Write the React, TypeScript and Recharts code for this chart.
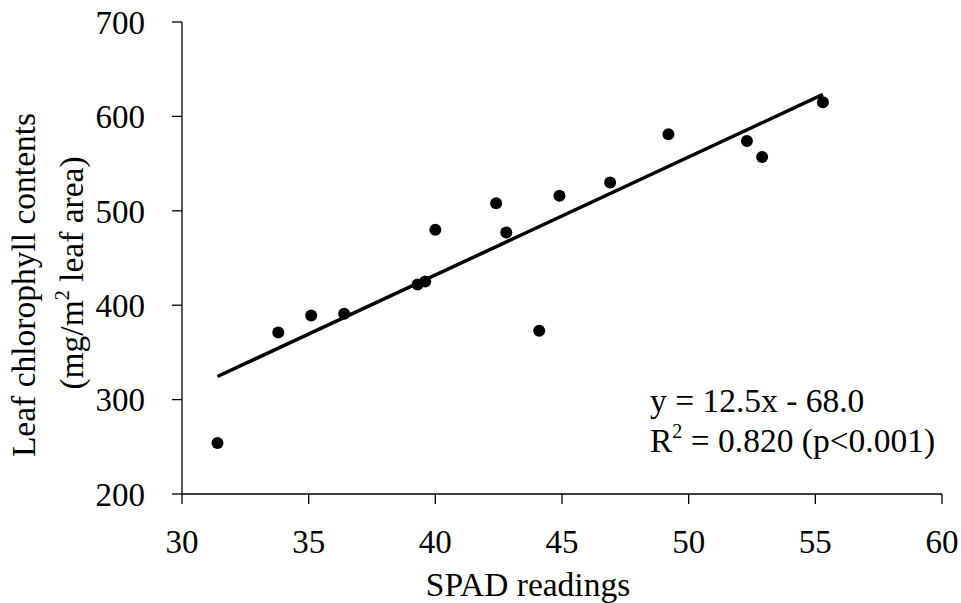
import { ScatterChart, Scatter, XAxis, YAxis, ReferenceLine, Customized } from 'recharts';

// SPAD reading vs leaf chlorophyll content (mg/m2 leaf area)
const spad = [31.4, 33.8, 35.1, 36.4, 39.3, 39.6, 40.0, 42.4, 42.8, 44.1, 44.9, 46.9, 49.2, 52.3, 52.9, 55.3];
const chlorophyll = [254, 371, 389, 391, 422, 425, 480, 508, 477, 373, 516, 530, 581, 574, 557, 615];

const xTicks = [30, 35, 40, 45, 50, 55, 60];
const yTicks = [200, 300, 400, 500, 600, 700];

// fitted line y = 12.5x - 68.0 over the observed SPAD range
const slope = 12.5;
const intercept = -68.0;
const fitRange = [31.4, 55.3];

const points = spad.map((x, i) => ({ x, y: chlorophyll[i] }));
const fitLine = fitRange.map((x) => ({ x, y: slope * x + intercept }));

const font = '"Liberation Serif", "Times New Roman", serif';

const Dot = (props: any) => <circle cx={props.cx} cy={props.cy} r={6} fill="#000" />;

const Texts = () => (
  <g fontFamily={font} fontSize={33.5} fill="#000">
    <text x={35} y={285} textAnchor="middle" transform="rotate(-90, 35, 285)">
      Leaf chlorophyll contents
    </text>
    <text x={83} y={273} textAnchor="middle" transform="rotate(-90, 83, 273)">
      (mg/m<tspan fontSize={20} dy={-14}>2</tspan><tspan dy={14}> leaf area)</tspan>
    </text>
    <text x={528} y={596} textAnchor="middle">SPAD readings</text>
    <text x={650} y={412}>y = 12.5x - 68.0</text>
    <text x={650} y={452}>
      R<tspan fontSize={20} dy={-14}>2</tspan><tspan dy={14}> = 0.820 (p&lt;0.001)</tspan>
    </text>
  </g>
);

export default function App() {
  return (
    <div style={{ position: 'fixed', top: 0, left: 0, width: 961, height: 603, background: '#fff' }}>
      <ScatterChart width={961} height={603} margin={{ top: 22, right: 19, bottom: 0, left: 0 }}>
        <XAxis
          type="number"
          dataKey="x"
          domain={[30, 60]}
          ticks={xTicks}
          tickSize={10}
          tickMargin={26}
          height={109}
          stroke="#000"
          strokeWidth={1.3}
          tick={{ fill: '#000', fontSize: 33, fontFamily: font }}
        />
        <YAxis
          type="number"
          dataKey="y"
          domain={[200, 700]}
          ticks={yTicks}
          tickSize={10}
          tickMargin={27}
          width={182}
          stroke="#000"
          strokeWidth={1.3}
          tick={{ fill: '#000', fontSize: 33, fontFamily: font }}
        />
        <ReferenceLine
          segment={fitLine}
          stroke="#000"
          strokeWidth={3.5}
          ifOverflow="visible"
        />
        <Scatter data={points} shape={<Dot />} isAnimationActive={false} />
        <Customized component={<Texts />} />
      </ScatterChart>
    </div>
  );
}
